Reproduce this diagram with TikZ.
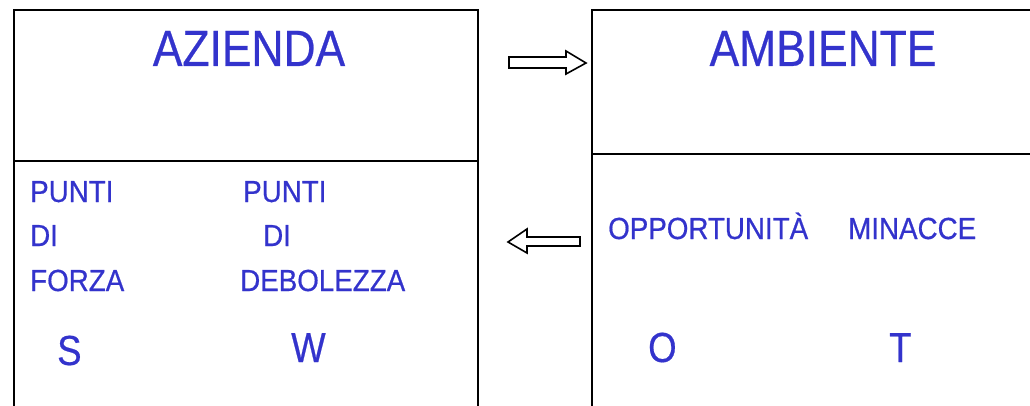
\documentclass[tikz,border=0pt]{standalone}
\usepackage{fontspec}
\setmainfont[FakeStretch=0.87,FakeBold=0.5]{Liberation Sans}
\newfontfamily\piccolo[FakeStretch=0.91,FakeBold=0.6]{Liberation Sans}
\definecolor{azz}{RGB}{51,51,204}
\tikzset{
    testo/.style = {text = azz, anchor = base west, inner sep = 0pt, font = \piccolo\fontsize{30.5}{36}\selectfont},
    titolo/.style = {text = azz, anchor = base, inner sep = 0pt, font = \fontsize{51}{60}\selectfont},
    lettera/.style = {text = azz, anchor = base west, inner sep = 0pt, font = \fontsize{42}{50}\selectfont},
    bordo/.style = {line width = 2.6pt},
    freccia/.style = {line width = 1.6pt, fill = white, line join = miter}
}
\begin{document}
\begin{tikzpicture}[x = 1pt, y = -1pt]
    \useasboundingbox (0,0) rectangle (1030,406);
    % azienda
    \draw[bordo] (14,406) -- (14,10) -- (478,10) -- (478,406);
    \draw[bordo] (14,161) -- (478,161);
    % ambiente
    \draw[bordo] (592,406) -- (592,10) -- (1030,10);
    \draw[bordo] (592,154) -- (1030,154);
    \node[titolo] (azienda) at (249,66) {AZIENDA};
    \node[titolo] (ambiente) at (823,66) {AMBIENTE};
    % frecce vuote
    \draw[freccia] (509,57) -- (566,57) -- (566,51) -- (586,63) -- (566,74) -- (566,68) -- (509,68) -- cycle;
    \draw[freccia] (580,237) -- (527,237) -- (527,229) -- (508,242) -- (527,253) -- (527,246) -- (580,246) -- cycle;
    % punti di forza / debolezza
    \node[testo] (puntiS) at (30,202) {PUNTI};
    \node[testo] (diS) at (30,246) {DI};
    \node[testo] (forza) at (30,291) {FORZA};
    \node[testo] (puntiW) at (243,202) {PUNTI};
    \node[testo] (diW) at (263,246) {DI};
    \node[testo] (debolezza) at (240,291) {DEBOLEZZA};
    \node[lettera] (s) at (57,365) {S};
    \node[lettera] (w) at (291,362) {W};
    % opportunita / minacce
    \node[testo] (opportunita) at (608,239) {OPPORTUNITÀ};
    \node[testo] (minacce) at (848,239) {MINACCE};
    \node[lettera] (o) at (648,362) {O};
    \node[lettera] (t) at (889,362) {T};
\end{tikzpicture}
\end{document}
